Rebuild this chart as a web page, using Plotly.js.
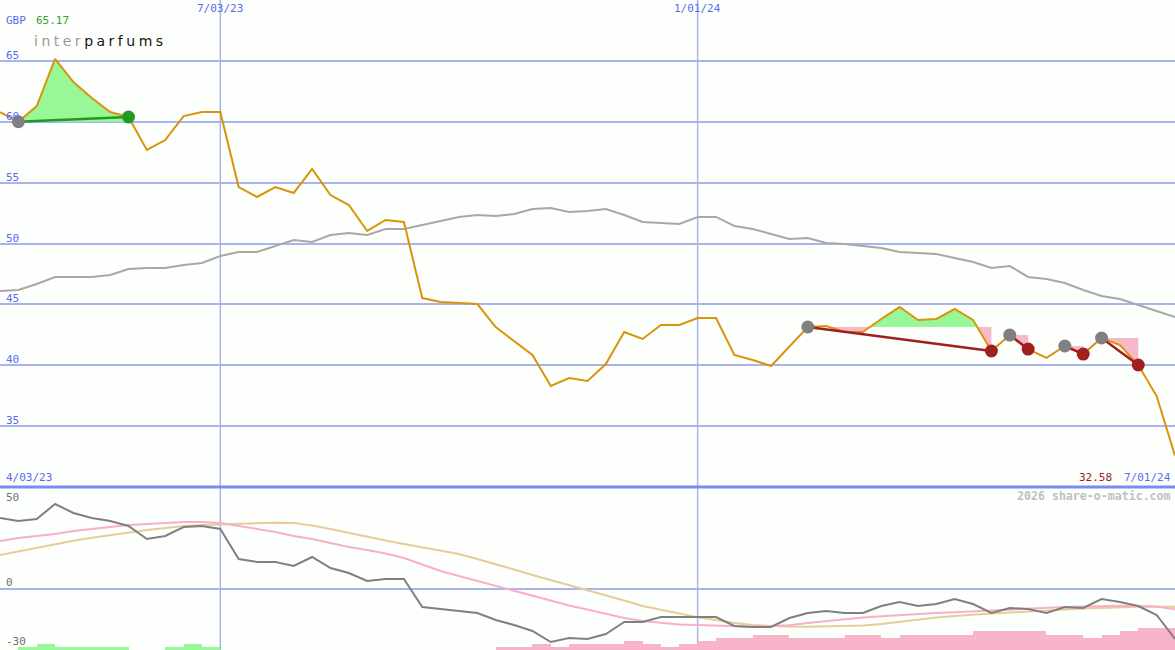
<!DOCTYPE html>
<html>
<head>
<meta charset="utf-8">
<script src="https://cdn.plot.ly/plotly-3.0.1.min.js"></script>
<style>
html,body{margin:0;padding:0;background:#fcfffc;}
#chart{width:1175px;height:650px;}
</style>
</head>
<body>
<div id="chart"></div>
<script>
// ---------- DATA ----------
const dates = [
 "2023-04-10","2023-04-17","2023-04-24","2023-05-01","2023-05-08","2023-05-15","2023-05-22","2023-05-29",
 "2023-06-05","2023-06-12","2023-06-19","2023-06-26","2023-07-03","2023-07-10","2023-07-17","2023-07-24",
 "2023-07-31","2023-08-07","2023-08-14","2023-08-21","2023-08-28","2023-09-04","2023-09-11","2023-09-18",
 "2023-09-25","2023-10-02","2023-10-09","2023-10-16","2023-10-23","2023-10-30","2023-11-06","2023-11-13",
 "2023-11-20","2023-11-27","2023-12-04","2023-12-11","2023-12-18","2023-12-25","2024-01-01","2024-01-08",
 "2024-01-15","2024-01-22","2024-01-29","2024-02-05","2024-02-12","2024-02-19","2024-02-26","2024-03-04",
 "2024-03-11","2024-03-18","2024-03-25","2024-04-01","2024-04-08","2024-04-15","2024-04-22","2024-04-29",
 "2024-05-06","2024-05-13","2024-05-20","2024-05-27","2024-06-03","2024-06-10","2024-06-17","2024-06-24",
 "2024-07-01"];

const price = [
 60.80,60.00,61.29,65.17,63.26,61.95,60.80,60.39,57.68,58.50,60.47,60.80,60.80,54.64,53.82,54.64,
 54.15,56.12,53.98,53.16,51.03,51.93,51.77,45.52,45.19,45.11,45.03,43.14,41.99,40.84,38.30,38.95,
 38.71,40.10,42.73,42.16,43.31,43.31,43.88,43.88,40.84,40.43,39.94,41.58,43.14,43.22,42.73,42.73,
 43.80,44.78,43.72,43.80,44.62,43.72,41.17,42.48,41.33,40.60,41.58,40.92,42.24,41.66,40.02,37.47,
 32.58];

const movingAvg = [
 46.10,46.18,46.67,47.25,47.25,47.25,47.41,47.91,47.99,47.99,48.23,48.40,48.97,49.30,49.30,49.79,
 50.29,50.12,50.70,50.86,50.70,51.19,51.19,51.52,51.85,52.18,52.34,52.26,52.42,52.83,52.92,52.59,
 52.67,52.83,52.34,51.77,51.68,51.60,52.18,52.18,51.44,51.19,50.78,50.37,50.45,50.04,49.96,49.79,
 49.63,49.30,49.22,49.14,48.81,48.48,47.99,48.15,47.25,47.08,46.76,46.18,45.69,45.44,44.95,44.46,
 43.96];

const oscillator = [
 34.79,33.31,34.29,41.66,37.24,34.79,33.31,30.86,24.48,25.95,30.37,30.86,29.39,14.66,13.19,13.19,
 11.23,15.64,10.25,7.79,3.87,4.85,4.85,-8.90,-9.88,-10.86,-11.84,-15.28,-17.73,-20.67,-26.07,-24.11,
 -24.60,-22.15,-16.26,-16.26,-13.80,-13.80,-13.80,-13.80,-18.22,-18.71,-18.71,-14.29,-11.84,-10.86,-11.84,-11.84,
 -8.40,-6.44,-8.40,-7.42,-4.97,-7.42,-11.84,-9.39,-9.88,-11.84,-8.90,-9.39,-4.97,-6.44,-8.40,-12.82,
 -24.60];

const signalFast = [
 23.50,24.97,25.95,26.93,28.40,29.39,30.37,31.35,31.84,32.33,32.82,32.82,32.33,30.86,29.39,27.91,
 25.95,24.48,22.52,20.55,19.08,17.36,15.15,11.91,8.77,6.32,3.87,1.66,-1.04,-3.50,-5.95,-8.16,
 -10.17,-12.33,-14.29,-15.77,-16.75,-17.48,-17.73,-18.07,-18.32,-18.56,-18.22,-17.83,-16.75,-15.77,-14.79,-14.05,
 -13.41,-12.82,-12.33,-11.84,-11.45,-11.01,-10.52,-10.02,-9.58,-9.14,-8.90,-8.65,-8.40,-8.26,-8.40,-8.65,
 -10.02];

const signalSlow = [
 16.63,18.44,20.26,22.02,23.60,25.07,26.44,27.67,28.90,29.88,30.86,31.35,31.69,32.09,32.33,32.48,
 32.33,31.10,29.39,27.42,25.46,23.74,22.02,20.31,18.59,17.12,14.66,12.21,9.51,6.81,4.36,1.90,
 -0.55,-3.01,-5.71,-8.40,-10.37,-12.09,-13.95,-15.28,-16.75,-17.73,-18.22,-18.47,-18.56,-18.47,-18.32,-17.98,
 -17.24,-16.11,-15.03,-14.05,-13.31,-12.58,-12.09,-11.60,-11.21,-10.86,-10.12,-9.63,-9.24,-8.90,-8.75,-8.75,
 -8.75];

// signed histogram: positive = bullish (green), negative = bearish (pink)
const histogram = [
 0,1.5,2.9,1.5,1.5,1.5,1.5,0,0,1.5,2.9,1.5,0,0,0,0,
 0,0,0,0,0,0,0,0,0,0,0,-1.3,-1.3,-2.9,-1.3,-2.9,
 -2.9,-2.9,-4.4,-2.9,-1.3,-2.9,-4.4,-5.9,-5.9,-7.4,-7.4,-5.9,-5.9,-5.9,-7.4,-7.4,
 -5.9,-7.4,-7.4,-7.4,-7.4,-9.3,-9.3,-9.3,-9.3,-7.4,-7.4,-5.9,-7.4,-9.3,-10.9,-10.9,
 -10.9];

// trades: entry index / exit index into the arrays above
const tradeEntry = [1, 44, 55, 58, 60];
const tradeExit  = [7, 54, 56, 59, 62];

const currency = "GBP";
const gridDates  = ["2023-07-03", "2024-01-01"];
const gridLabels = ["7/03/23", "1/01/24"];
const startLabel = "4/03/23";
const endLabel   = "7/01/24";
const priceTicks = [35, 40, 45, 50, 55, 60, 65];
const oscTicks   = [50, 0, -30];
const xRange = ["2023-04-10", "2024-07-01"];

// ---------- STYLE ----------
const W = 1175, H = 650;
const splitFrac = 163 / 650;
const GRID = "#a8b4f0";
const BLUE = "#5a6af0";
const MONO = "DejaVu Sans Mono, monospace";
const FS = 11;
const WEEK = 7 * 86400000;

function fmt(ms) {
  const d = new Date(ms);
  const p = n => String(n).padStart(2, "0");
  return d.getUTCFullYear() + "-" + p(d.getUTCMonth() + 1) + "-" + p(d.getUTCDate()) + " " +
         p(d.getUTCHours()) + ":" + p(d.getUTCMinutes()) + ":" + p(d.getUTCSeconds());
}
const tms = dates.map(d => Date.parse(d + "T00:00:00Z"));

// polygon between price and a horizontal level, split above / below
function regions(a, b, level) {
  const up = [], dn = [];
  for (let i = a; i <= b; i++) {
    if (i > a) {
      const y0 = price[i - 1], y1 = price[i];
      if ((y0 - level) * (y1 - level) < 0) {
        const f = (level - y0) / (y1 - y0);
        const xm = tms[i - 1] + f * (tms[i] - tms[i - 1]);
        up.push([xm, level]); dn.push([xm, level]);
      }
    }
    up.push([tms[i], Math.max(price[i], level)]);
    dn.push([tms[i], Math.min(price[i], level)]);
  }
  const close = arr => {
    arr.push([tms[b], level]); arr.push([tms[a], level]);
    return {x: arr.map(p => fmt(p[0])), y: arr.map(p => p[1])};
  };
  return {up: close(up), dn: close(dn)};
}

const traces = [];

// histogram bars (lower panel)
traces.push({
  type: "bar", xaxis: "x", yaxis: "y2",
  x: dates, y: histogram.map(v => Math.abs(v)), base: -30,
  width: WEEK, offset: 0,
  marker: {color: histogram.map(v => v >= 0 ? "#98f898" : "#f8b4c8"), line: {width: 0}},
  hoverinfo: "skip"
});
traces.push({type: "scatter", mode: "lines", xaxis: "x", yaxis: "y2", x: dates, y: signalSlow,
  line: {color: "#e6cc98", width: 2}, hoverinfo: "skip"});
traces.push({type: "scatter", mode: "lines", xaxis: "x", yaxis: "y2", x: dates, y: signalFast,
  line: {color: "#f8b0c8", width: 2}, hoverinfo: "skip"});
traces.push({type: "scatter", mode: "lines", xaxis: "x", yaxis: "y2", x: dates, y: oscillator,
  line: {color: "#808080", width: 2}, hoverinfo: "skip"});

// moving average (upper panel)
traces.push({type: "scatter", mode: "lines", x: dates, y: movingAvg,
  line: {color: "#a8a8a8", width: 2}, hoverinfo: "skip"});

// trade fills
tradeEntry.forEach((a, k) => {
  const b = tradeExit[k];
  const r = regions(a, b, price[a]);
  traces.push({type: "scatter", mode: "lines", x: r.up.x, y: r.up.y, fill: "toself",
    fillcolor: "#98f898", line: {width: 0, color: "rgba(0,0,0,0)"}, hoverinfo: "skip"});
  traces.push({type: "scatter", mode: "lines", x: r.dn.x, y: r.dn.y, fill: "toself",
    fillcolor: "#f8b8cc", line: {width: 0, color: "rgba(0,0,0,0)"}, hoverinfo: "skip"});
});

// price
traces.push({type: "scatter", mode: "lines", x: dates, y: price,
  line: {color: "#d8940a", width: 2}, hoverinfo: "skip"});

// trade lines + markers
tradeEntry.forEach((a, k) => {
  const b = tradeExit[k];
  const win = price[b] >= price[a];
  const col = win ? "#229922" : "#a02020";
  traces.push({type: "scatter", mode: "lines", x: [dates[a], dates[b]], y: [price[a], price[b]],
    line: {color: col, width: 2.5}, hoverinfo: "skip"});
  traces.push({type: "scatter", mode: "markers", x: [dates[a]], y: [price[a]],
    marker: {color: "#808080", size: 13, line: {width: 0}}, hoverinfo: "skip"});
  traces.push({type: "scatter", mode: "markers", x: [dates[b]], y: [price[b]],
    marker: {color: col, size: 13, line: {width: 0}}, hoverinfo: "skip"});
});

// ---------- ANNOTATIONS ----------
const ann = [];
const px = v => v / W;
const py = v => 1 - v / H;
const txt = (o) => Object.assign({showarrow: false, borderpad: 0,
  font: {family: MONO, size: FS, color: BLUE}}, o);

ann.push(txt({xref: "paper", yref: "paper", x: px(5), y: py(20), xanchor: "left", yanchor: "middle", text: currency}));
ann.push(txt({xref: "paper", yref: "paper", x: px(35), y: py(20), xanchor: "left", yanchor: "middle",
  text: Math.max(...price).toFixed(2), font: {family: MONO, size: FS, color: "#30a030"}}));
ann.push({xref: "paper", yref: "paper", x: px(33), y: py(41), xanchor: "left", yanchor: "middle",
  showarrow: false, borderpad: 0,
  font: {family: "DejaVu Sans, sans-serif", size: 14, color: "#999999"},
  text: '<span style="color:#9a9a9a;letter-spacing:3.5px">inter</span><span style="color:#151515;letter-spacing:3.5px">parfums</span>'});

priceTicks.forEach(v => ann.push(txt({xref: "paper", yref: "y", x: px(5), y: v, xanchor: "left",
  yanchor: "bottom", yshift: -2, text: String(v)})));
gridDates.forEach((d, k) => ann.push(txt({xref: "x", yref: "paper", x: d, y: 1, xanchor: "center",
  yanchor: "top", yshift: -1, text: gridLabels[k]})));
ann.push(txt({xref: "paper", yref: "y", x: px(5), y: 30, xanchor: "left", yanchor: "bottom", yshift: 2, text: startLabel}));
ann.push(txt({xref: "paper", yref: "y", x: px(1172), y: 30, xanchor: "right", yanchor: "bottom", yshift: 2, text: endLabel}));
ann.push(txt({xref: "paper", yref: "y", x: px(1113), y: 30, xanchor: "right", yanchor: "bottom", yshift: 2,
  text: price[price.length - 1].toFixed(2), font: {family: MONO, size: FS, color: "#a02020"}}));
ann.push({xref: "paper", yref: "paper", x: px(1172), y: py(496), xanchor: "right", yanchor: "middle",
  showarrow: false, borderpad: 0, text: "<b>2026 share-o-matic.com</b>",
  font: {family: MONO, size: 11.6, color: "#c0c0c0"}});
oscTicks.forEach(v => ann.push(txt({xref: "paper", yref: "y2", x: px(5), y: v, xanchor: "left",
  yanchor: v === 50 ? "top" : "bottom", yshift: v === 50 ? -3 : (v === 0 ? -1 : 1), text: String(v),
  font: {family: MONO, size: FS, color: "#707070"}})));

// ---------- SHAPES ----------
const shapes = [];
gridDates.forEach(d => shapes.push({type: "line", xref: "x", yref: "paper", x0: d, x1: d, y0: 0, y1: 1,
  line: {color: GRID, width: 1.5}, layer: "below"}));
shapes.push({type: "line", xref: "paper", yref: "paper", x0: 0, x1: 1, y0: splitFrac, y1: splitFrac,
  line: {color: "#7b8bf0", width: 3}, layer: "below"});

const layout = {
  width: W, height: H,
  margin: {l: 0, r: 0, t: 0, b: 0, pad: 0},
  paper_bgcolor: "#fcfffc", plot_bgcolor: "#fcfffc",
  showlegend: false, hovermode: false, bargap: 0,
  xaxis: {type: "date", range: xRange, showgrid: false, zeroline: false, showticklabels: false,
    ticks: "", showline: false, fixedrange: true},
  yaxis: {domain: [splitFrac, 1], range: [30, 70], tickvals: priceTicks, showgrid: true,
    gridcolor: GRID, gridwidth: 2, zeroline: false, showticklabels: false, ticks: "", fixedrange: true},
  yaxis2: {domain: [0, splitFrac], range: [-30, 50], tickvals: [0], showgrid: true,
    gridcolor: GRID, gridwidth: 2, zeroline: false, showticklabels: false, ticks: "", fixedrange: true,
    anchor: "x"},
  annotations: ann, shapes: shapes
};

Plotly.newPlot("chart", traces, layout, {staticPlot: true, displayModeBar: false});
</script>
</body>
</html>
